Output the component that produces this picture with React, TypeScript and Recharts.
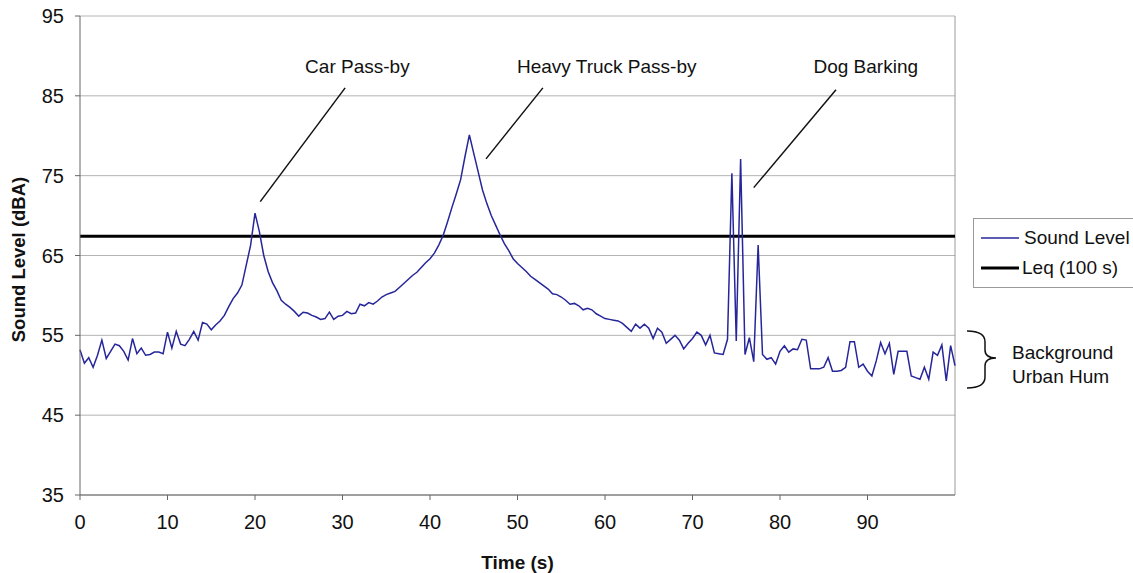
import React from 'react';
import {
  LineChart,
  Line,
  XAxis,
  YAxis,
  CartesianGrid,
  ReferenceLine,
  ReferenceDot,
  Legend,
} from 'recharts';

const FONT = '"Liberation Sans", Arial, Helvetica, sans-serif';

// Sound level samples, one every 0.5 s from 0 to 100 s (dBA)
const LEVELS: number[] = [
  // 0 - 9.5
  53.2, 51.5, 52.2, 51.0, 52.5, 54.4, 52.1, 53.0, 53.9, 53.7,
  53.0, 51.9, 54.6, 52.7, 53.4, 52.5, 52.6, 52.9, 52.9, 52.7,
  // 10 - 19.5
  55.4, 53.4, 55.5, 53.9, 53.7, 54.5, 55.5, 54.4, 56.6, 56.4,
  55.7, 56.3, 56.8, 57.5, 58.6, 59.6, 60.3, 61.3, 63.8, 66.3,
  // 20 - 29.5
  70.3, 68.0, 65.0, 63.0, 61.6, 60.6, 59.4, 58.9, 58.5, 58.0,
  57.4, 57.9, 57.8, 57.5, 57.3, 57.0, 57.1, 57.9, 57.0, 57.4,
  // 30 - 39.5
  57.5, 58.0, 57.7, 57.8, 58.9, 58.7, 59.1, 58.9, 59.3, 59.8,
  60.1, 60.3, 60.5, 61.0, 61.5, 62.0, 62.5, 62.9, 63.5, 64.1,
  // 40 - 49.5
  64.6, 65.3, 66.3, 67.5, 69.2, 71.0, 72.7, 74.5, 77.4, 80.1,
  77.8, 75.5, 73.2, 71.5, 70.0, 68.8, 67.6, 66.5, 65.6, 64.6,
  // 50 - 59.5
  64.0, 63.5, 63.0, 62.4, 62.0, 61.6, 61.2, 60.8, 60.2, 60.1,
  59.8, 59.4, 58.9, 59.0, 58.7, 58.2, 58.4, 58.2, 57.7, 57.4,
  // 60 - 69.5
  57.1, 57.0, 56.9, 56.8, 56.5, 56.0, 55.5, 56.4, 55.9, 56.4,
  55.9, 54.6, 55.9, 55.4, 54.0, 54.5, 55.0, 54.4, 53.3, 54.0,
  // 70 - 79.5
  54.6, 55.4, 55.0, 53.8, 55.0, 52.8, 52.7, 52.6, 54.5, 75.3,
  54.3, 77.1, 52.6, 54.7, 51.7, 66.3, 52.6, 52.0, 52.2, 51.4,
  // 80 - 89.5
  53.0, 53.7, 52.9, 53.3, 53.2, 54.5, 54.4, 50.8, 50.8, 50.8,
  51.0, 52.2, 50.5, 50.5, 50.6, 51.0, 54.2, 54.2, 51.0, 51.4,
  // 90 - 99.5
  50.5, 49.9, 51.8, 54.1, 52.7, 54.0, 50.1, 53.0, 53.0, 53.0,
  49.9, 49.7, 49.5, 51.0, 49.5, 52.9, 52.5, 53.8, 49.3, 53.7,
  // 100
  51.2,
];

const SAMPLE_STEP = 0.5; // seconds between samples
const LEQ = 67.4; // Leq (100 s)

const X_TICKS = [0, 10, 20, 30, 40, 50, 60, 70, 80, 90];
const Y_TICKS = [35, 45, 55, 65, 75, 85, 95];

const SERIES_NAMES = ['Sound Level', 'Leq (100 s)'];

// annotation labels and their leader lines, in data coordinates
const ANNOT_LABELS = ['Car Pass-by', 'Heavy Truck Pass-by', 'Dog Barking'];
const ANNOT_TEXT_AT = [
  { t: 31.7, v: 88.75 },
  { t: 60.2, v: 88.75 },
  { t: 89.8, v: 88.75 },
];
const ANNOT_LINES = [
  [{ t: 30.3, v: 86.0 }, { t: 20.6, v: 71.75 }],
  [{ t: 52.9, v: 86.0 }, { t: 46.4, v: 77.1 }],
  [{ t: 86.4, v: 85.75 }, { t: 77.0, v: 73.5 }],
];

const data = LEVELS.map((level, i) => ({ t: i * SAMPLE_STEP, level }));

const LINE_COLOR = '#26269a';
const TEXT_SIZE = 19;

const LegendBox = () => (
  <div
    style={{
      border: '1px solid #9a9a9a',
      background: '#fff',
      padding: '4px 0 4px 6px',
      fontFamily: FONT,
      fontSize: TEXT_SIZE,
      color: '#111',
      width: 180,
      boxSizing: 'border-box',
      lineHeight: '30px',
    }}
  >
    <div style={{ display: 'flex', alignItems: 'center', height: 30 }}>
      <svg width={40} height={10} style={{ marginRight: 4 }}>
        <line x1={1} y1={5} x2={39} y2={5} stroke={LINE_COLOR} strokeWidth={1.5} />
      </svg>
      <span>{SERIES_NAMES[0]}</span>
    </div>
    <div style={{ display: 'flex', alignItems: 'center', height: 30 }}>
      <svg width={40} height={10} style={{ marginRight: 2 }}>
        <line x1={1} y1={5} x2={39} y2={5} stroke="#000" strokeWidth={3} />
      </svg>
      <span>{SERIES_NAMES[1]}</span>
    </div>
  </div>
);

const YTitle = (props: any) => {
  const vb = props.viewBox || {};
  const cx = 18;
  const cy = (vb.y || 0) + (vb.height || 0) / 2 + 4;
  return (
    <text
      x={cx}
      y={cy}
      transform={`rotate(-90 ${cx} ${cy})`}
      textAnchor="middle"
      dominantBaseline="central"
      fontFamily={FONT}
      fontWeight="bold"
      fontSize={18.5}
      fill="#111"
    >
      Sound Level (dBA)
    </text>
  );
};

const XTitle = (props: any) => {
  const vb = props.viewBox || {};
  const cx = (vb.x || 0) + (vb.width || 0) / 2;
  const cy = (vb.y || 0) + 67;
  return (
    <text
      x={cx}
      y={cy}
      textAnchor="middle"
      dominantBaseline="central"
      fontFamily={FONT}
      fontWeight="bold"
      fontSize={19}
      fill="#111"
    >
      Time (s)
    </text>
  );
};

export default function App() {
  return (
    <div style={{ position: 'absolute', left: 0, top: 0, width: 1133, height: 573, background: '#fff' }}>
      <LineChart
        width={1133}
        height={573}
        data={data}
        margin={{ top: 16, right: 178, bottom: 38, left: 0 }}
      >
        <CartesianGrid vertical={false} stroke="#b4b4b4" strokeWidth={1} />
        <XAxis
          dataKey="t"
          type="number"
          domain={[0, 100]}
          ticks={X_TICKS}
          interval={0}
          height={40}
          tickSize={5}
          tickMargin={15}
          stroke="#666"
          tick={{ fill: '#111', fontSize: 20, fontFamily: FONT }}
          label={{ content: XTitle }}
        />
        <YAxis
          type="number"
          domain={[35, 95]}
          ticks={Y_TICKS}
          interval={0}
          width={80}
          tickSize={5}
          tickMargin={11}
          stroke="#666"
          tick={{ fill: '#111', fontSize: 20, fontFamily: FONT }}
          label={{ content: YTitle }}
        />
        <ReferenceLine x={100} stroke="#9a9a9a" strokeWidth={1} />
        <ReferenceLine y={LEQ} stroke="#000" strokeWidth={3} />
        <Line
          type="linear"
          dataKey="level"
          name={SERIES_NAMES[0]}
          stroke={LINE_COLOR}
          strokeWidth={1.5}
          dot={false}
          activeDot={false}
          isAnimationActive={false}
        />
        {ANNOT_LINES.map((seg, i) => (
          <ReferenceLine
            key={`al${i}`}
            segment={[
              { x: seg[0].t, y: seg[0].v },
              { x: seg[1].t, y: seg[1].v },
            ]}
            stroke="#111"
            strokeWidth={1.5}
          />
        ))}
        {ANNOT_LABELS.map((lab, i) => (
          <ReferenceDot
            key={`ad${i}`}
            x={ANNOT_TEXT_AT[i].t}
            y={ANNOT_TEXT_AT[i].v}
            r={0}
            fill="none"
            stroke="none"
            label={{
              value: lab,
              position: 'center',
              fill: '#111',
              fontSize: TEXT_SIZE,
              fontFamily: FONT,
            }}
          />
        ))}
        <Legend
          layout="horizontal"
          verticalAlign="middle"
          align="center"
          content={() => <LegendBox />}
          wrapperStyle={{ position: 'absolute', left: 973, top: 218, width: 180 }}
        />
      </LineChart>
      <svg
        width={1133}
        height={573}
        style={{ position: 'absolute', left: 0, top: 0, pointerEvents: 'none' }}
      >
        <path
          d="M967,331 Q985,331 985,342 L985,350 Q985,358 996,358 Q985,358 985,366 L985,377 Q985,388 967,388"
          fill="none"
          stroke="#111"
          strokeWidth={1.5}
        />
        <text x={1012} y={352} fontFamily={FONT} fontSize={TEXT_SIZE} fill="#111" dominantBaseline="central">
          Background
        </text>
        <text x={1012} y={376} fontFamily={FONT} fontSize={TEXT_SIZE} fill="#111" dominantBaseline="central">
          Urban Hum
        </text>
      </svg>
    </div>
  );
}
